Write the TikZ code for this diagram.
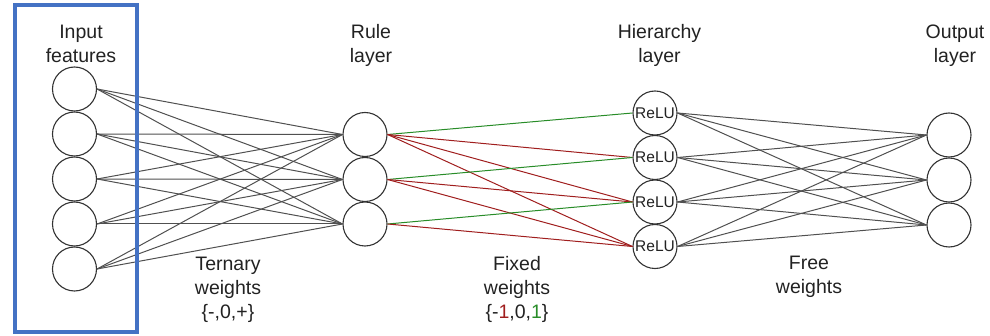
\documentclass[tikz,border=0pt]{standalone}
\usepackage{fontspec}
\setmainfont{Liberation Sans}
\definecolor{boxblue}{RGB}{68,114,196}
\definecolor{posgreen}{RGB}{40,140,40}
\definecolor{negred}{RGB}{160,30,30}
\definecolor{linegray}{RGB}{80,80,80}
\definecolor{txt}{RGB}{34,34,34}
\begin{document}
\begin{tikzpicture}[x=1pt,y=-1pt,
  neuron/.style={circle,draw=black!80,line width=1.1pt,fill=white,minimum size=44pt,inner sep=0pt},
  relu/.style={neuron,font=\fontsize{15.5}{17}\selectfont,text=txt},
  conn/.style={draw=linegray,line width=1pt},
  poswt/.style={draw=posgreen,line width=1pt},
  negwt/.style={draw=negred,line width=1pt},
  lbl/.style={align=center,font=\fontsize{19.5}{24}\selectfont,text=txt,inner sep=0pt,anchor=base}
]
\useasboundingbox (0,0) rectangle (990,336);

% nodes
\foreach \i/\y in {1/89,2/134,3/179,4/224,5/269}
  \node[neuron] (i\i) at (74.5,\y) {};
\foreach \i/\y in {1/134.5,2/179.5,3/224}
  \node[neuron] (r\i) at (365,\y) {};
\foreach \i/\y in {1/113,2/157.5,3/202,4/246.5}
  \node[relu] (h\i) at (655,\y) {ReLU};
\foreach \i/\y in {1/135,2/180,3/225}
  \node[neuron] (o\i) at (949,\y) {};

% connectors input -> rule
\foreach \i in {1,...,5}
  \foreach \j in {1,2,3}
    \draw[conn] (i\i.east) -- (r\j.west);

% rule -> hierarchy (fixed weights)
\draw[poswt] (r1.east) -- (h1.west);
\draw[negwt] (r1.east) -- (h2.west);
\draw[negwt] (r1.east) -- (h3.west);
\draw[negwt] (r1.east) -- (h4.west);
\draw[poswt] (r2.east) -- (h2.west);
\draw[negwt] (r2.east) -- (h3.west);
\draw[negwt] (r2.east) -- (h4.west);
\draw[poswt] (r3.east) -- (h3.west);
\draw[negwt] (r3.east) -- (h4.west);

% hierarchy -> output
\foreach \i in {1,...,4}
  \foreach \j in {1,2,3}
    \draw[conn] (h\i.east) -- (o\j.west);

% labels (anchor = baseline of last line)
\node[lbl] (linput) at (81,63) {Input\\features};
\node[lbl] (lrule) at (371,63) {Rule\\layer};
\node[lbl] (lhier) at (659.5,63) {Hierarchy\\layer};
\node[lbl] (lout) at (955,63) {Output\\layer};
\node[lbl] (ltern) at (228,319) {Ternary\\weights\\\{-,0,+\}};
\node[lbl] (lfix) at (517,319) {Fixed\\weights\\\{-\textcolor{negred}{1},0,\textcolor{posgreen}{1}\}};
\node[lbl] (lfree) at (809,294) {Free\\weights};

% highlight box
\draw[boxblue,line width=4pt] (14.5,5) rectangle (137,332);
\end{tikzpicture}
\end{document}
